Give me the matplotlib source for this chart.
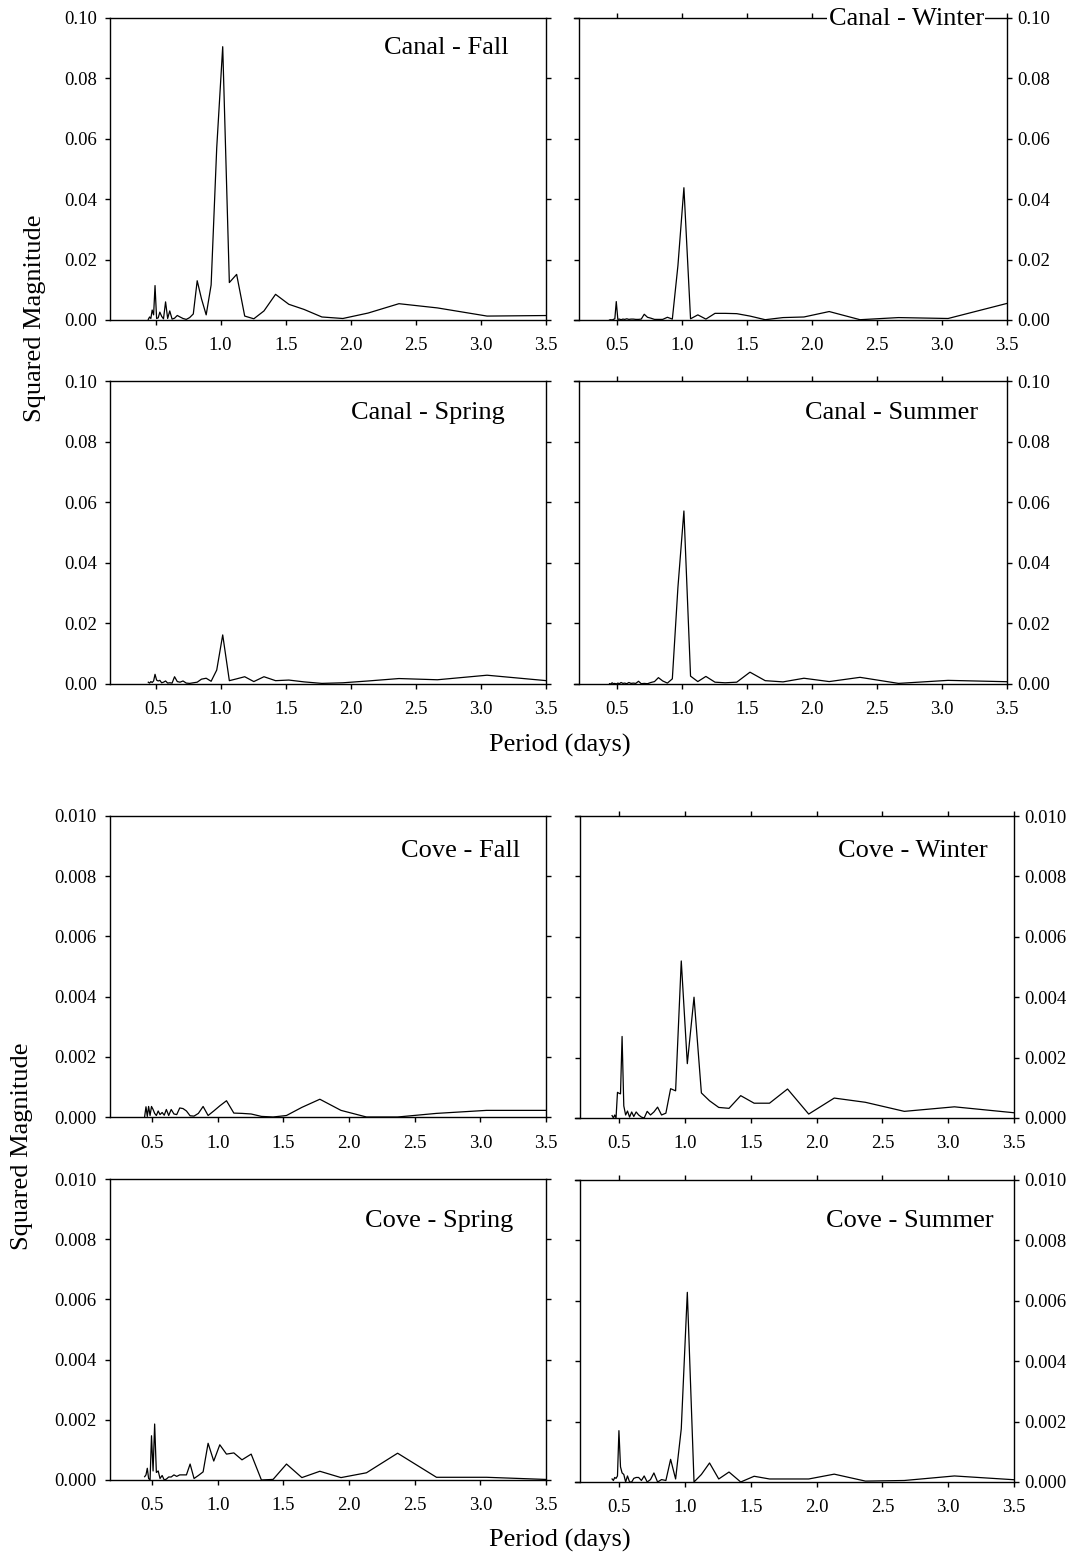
import matplotlib
matplotlib.use("Agg")
import matplotlib.pyplot as plt
from matplotlib.ticker import FormatStrFormatter

plt.rcParams['font.family'] = ['Liberation Serif', 'DejaVu Serif']

W, H = 1077, 1556

# Period grid (days)
period = [0.444, 0.454, 0.464, 0.474, 0.485, 0.496, 0.508, 0.520, 0.533, 0.547,
          0.561, 0.577, 0.593, 0.609, 0.627, 0.646, 0.667, 0.688, 0.711, 0.736,
          0.762, 0.790, 0.820, 0.853, 0.889, 0.927, 0.970, 1.016, 1.067, 1.123,
          1.185, 1.255, 1.333, 1.422, 1.524, 1.641, 1.778, 1.939, 2.133, 2.370,
          2.666, 3.047, 3.555]

canal_fall = [0.0002, 0.0010, 0.0005, 0.0033, 0.0017, 0.0114, 0.0005, 0.0007, 0.0026, 0.0012,
              0.0004, 0.0060, 0.0005, 0.0030, 0.0003, 0.0006, 0.0015, 0.0010, 0.0005, 0.0002,
              0.0008, 0.0020, 0.0130, 0.0070, 0.0017, 0.0116, 0.0570, 0.0905, 0.0124, 0.0151,
              0.0013, 0.0004, 0.0030, 0.0085, 0.0052, 0.0035, 0.0010, 0.0005, 0.0023, 0.0054,
              0.0040, 0.0013, 0.0015]

canal_winter = [0.0000, 0.0001, 0.0000, 0.0002, 0.0004, 0.0061, 0.0002, 0.0003, 0.0001, 0.0003,
                0.0002, 0.0004, 0.0002, 0.0003, 0.0003, 0.0002, 0.0002, 0.0003, 0.0019, 0.0009,
                0.0006, 0.0002, 0.0002, 0.0002, 0.0009, 0.0003, 0.0180, 0.0438, 0.0004, 0.0017,
                0.0003, 0.0022, 0.0022, 0.0021, 0.0013, 0.0001, 0.0008, 0.0010, 0.0028, 0.0001,
                0.0008, 0.0005, 0.0061]

canal_spring = [0.0006, 0.0003, 0.0008, 0.0005, 0.0010, 0.0032, 0.0013, 0.0010, 0.0012, 0.0004,
                0.0006, 0.0010, 0.0003, 0.0004, 0.0003, 0.0024, 0.0008, 0.0006, 0.0010, 0.0003,
                0.0002, 0.0004, 0.0006, 0.0016, 0.0019, 0.0009, 0.0046, 0.0162, 0.0011, 0.0017,
                0.0024, 0.0008, 0.0024, 0.0011, 0.0013, 0.0007, 0.0002, 0.0004, 0.0010, 0.0018,
                0.0014, 0.0029, 0.0009]

canal_summer = [0.0001, 0.0000, 0.0004, 0.0001, 0.0002, 0.0000, 0.0003, 0.0001, 0.0005, 0.0002,
                0.0003, 0.0001, 0.0005, 0.0002, 0.0003, 0.0002, 0.0009, 0.0001, 0.0002, 0.0001,
                0.0005, 0.0008, 0.0021, 0.0010, 0.0003, 0.0017, 0.0319, 0.0571, 0.0026, 0.0008,
                0.0025, 0.0006, 0.0004, 0.0006, 0.0039, 0.0011, 0.0007, 0.0019, 0.0008, 0.0022,
                0.0002, 0.0012, 0.0007]

cove_fall = [0.00002, 0.00034, 0.00002, 0.00035, 0.00005, 0.00035, 0.00025, 0.00012, 0.00005, 0.00020,
             0.00008, 0.00015, 0.00006, 0.00025, 0.00005, 0.00025, 0.00010, 0.00008, 0.00030, 0.00028,
             0.00020, 0.00004, 0.00003, 0.00012, 0.00035, 0.00005, 0.00020, 0.00037, 0.00054, 0.00013,
             0.00012, 0.00010, 0.00002, 0.00000, 0.00005, 0.00032, 0.00059, 0.00022, 0.00000, 0.00000,
             0.00012, 0.00022, 0.00022]

cove_winter = [0.00008, 0.00000, 0.00010, 0.00000, 0.00085, 0.00082, 0.00080, 0.00270, 0.00040, 0.00010,
               0.00023, 0.00003, 0.00020, 0.00005, 0.00020, 0.00010, 0.00003, 0.00000, 0.00022, 0.00010,
               0.00020, 0.00036, 0.00010, 0.00016, 0.00097, 0.00090, 0.00520, 0.00180, 0.00400, 0.00083,
               0.00057, 0.00035, 0.00032, 0.00074, 0.00049, 0.00049, 0.00096, 0.00013, 0.00066, 0.00052,
               0.00022, 0.00037, 0.00015]

cove_spring = [0.00011, 0.00017, 0.00039, 0.00005, 0.00000, 0.00147, 0.00030, 0.00186, 0.00025, 0.00030,
               0.00005, 0.00015, 0.00000, 0.00003, 0.00010, 0.00010, 0.00017, 0.00012, 0.00017, 0.00017,
               0.00017, 0.00053, 0.00005, 0.00015, 0.00027, 0.00122, 0.00063, 0.00117, 0.00086, 0.00090,
               0.00067, 0.00086, 0.00000, 0.00002, 0.00053, 0.00008, 0.00029, 0.00008, 0.00024, 0.00089,
               0.00009, 0.00009, 0.00001]

cove_summer = [0.00010, 0.00005, 0.00015, 0.00012, 0.00020, 0.00170, 0.00050, 0.00030, 0.00025, 0.00000,
               0.00020, 0.00000, 0.00000, 0.00012, 0.00015, 0.00015, 0.00005, 0.00020, 0.00000, 0.00008,
               0.00030, 0.00000, 0.00008, 0.00005, 0.00075, 0.00010, 0.00176, 0.00628, 0.00000, 0.00025,
               0.00063, 0.00010, 0.00033, 0.00000, 0.00019, 0.00010, 0.00010, 0.00010, 0.00026, 0.00003,
               0.00005, 0.00020, 0.00006]

xticks = [0.5, 1.0, 1.5, 2.0, 2.5, 3.0, 3.5]
canal_yticks = [0.00, 0.02, 0.04, 0.06, 0.08, 0.10]
cove_yticks = [0.000, 0.002, 0.004, 0.006, 0.008, 0.010]

fig = plt.figure(figsize=(W / 100, H / 100), dpi=100)

TICK_FS = 13.5
LABEL_FS = 19
TLEN = 3.6


def add_ax(x0, x1, y0, y1):
    return fig.add_axes([x0 / W, 1 - y1 / H, (x1 - x0) / W, (y1 - y0) / H])


def style(ax, side, yticks, ylim, fmt, xlim, spine_x=None):
    ax.set_xlim(*xlim)
    ax.set_ylim(*ylim)
    ax.set_xticks(xticks)
    ax.set_yticks(yticks)
    ax.xaxis.set_major_formatter(FormatStrFormatter('%.1f'))
    ax.yaxis.set_major_formatter(FormatStrFormatter(fmt))
    for s in ax.spines.values():
        s.set_linewidth(1.0)
        s.set_color('black')
    if spine_x is not None:
        ax.spines['left'].set_position(('data', spine_x))
    if side == 'left':
        ax.tick_params(axis='y', which='both', left=True, right=True,
                       labelleft=True, labelright=False, direction='out',
                       length=TLEN, width=1, labelsize=TICK_FS, pad=6)
        ax.tick_params(axis='x', bottom=True, top=False, direction='out',
                       length=TLEN, width=1, labelsize=TICK_FS, pad=9)
    else:
        ax.tick_params(axis='y', which='both', left=True, right=True,
                       labelleft=False, labelright=True, direction='out',
                       length=TLEN, width=1, labelsize=TICK_FS, pad=4)
        ax.tick_params(axis='x', bottom=True, top=True, direction='out',
                       length=TLEN, width=1, labelsize=TICK_FS, pad=9)


def panel(ax, y, label, xr, yc):
    ax.plot(period, y, color='black', lw=0.9)
    fig.text(xr / W, 1 - yc / H, label, ha='right', va='center',
             fontsize=LABEL_FS, zorder=10,
             bbox=dict(facecolor='white', edgecolor='none', pad=1.0))


# Canal group
ax = add_ax(110, 546, 18, 320)
style(ax, 'left', canal_yticks, (0, 0.10), '%.2f', (0.15, 3.5))
panel(ax, canal_fall, 'Canal - Fall', 509, 48)

ax = add_ax(574, 1007, 18, 320)
style(ax, 'right', canal_yticks, (0, 0.10), '%.2f', (0.171, 3.5), spine_x=0.21)
panel(ax, canal_winter, 'Canal - Winter', 984, 19)

ax = add_ax(110, 546, 381, 684)
style(ax, 'left', canal_yticks, (0, 0.10), '%.2f', (0.15, 3.5))
panel(ax, canal_spring, 'Canal - Spring', 505, 413)

ax = add_ax(574, 1007, 381, 684)
style(ax, 'right', canal_yticks, (0, 0.10), '%.2f', (0.171, 3.5), spine_x=0.21)
panel(ax, canal_summer, 'Canal - Summer', 978, 413)

# Cove group
ax = add_ax(110, 546, 816, 1117)
style(ax, 'left', cove_yticks, (0, 0.010), '%.3f', (0.18, 3.5))
panel(ax, cove_fall, 'Cove - Fall', 520, 851)

ax = add_ax(575, 1014, 816, 1118)
style(ax, 'right', cove_yticks, (0, 0.010), '%.3f', (0.162, 3.5), spine_x=0.2)
panel(ax, cove_winter, 'Cove - Winter', 988, 851)

ax = add_ax(110, 546, 1179, 1480)
style(ax, 'left', cove_yticks, (0, 0.010), '%.3f', (0.18, 3.5))
panel(ax, cove_spring, 'Cove - Spring', 513, 1221)

ax = add_ax(575, 1014, 1180, 1482)
style(ax, 'right', cove_yticks, (0, 0.010), '%.3f', (0.162, 3.5), spine_x=0.2)
panel(ax, cove_summer, 'Cove - Summer', 994, 1221)

# Shared labels
fig.text(35 / W, 1 - 318 / H, 'Squared Magnitude', rotation=90,
         ha='center', va='center', fontsize=LABEL_FS)
fig.text(22 / W, 1 - 1146 / H, 'Squared Magnitude', rotation=90,
         ha='center', va='center', fontsize=LABEL_FS)
fig.text(560 / W, 1 - 745 / H, 'Period (days)', ha='center', va='center',
         fontsize=LABEL_FS)
fig.text(560 / W, 1 - 1540 / H, 'Period (days)', ha='center', va='center',
         fontsize=LABEL_FS)

fig.savefig('out.png', dpi=100)
